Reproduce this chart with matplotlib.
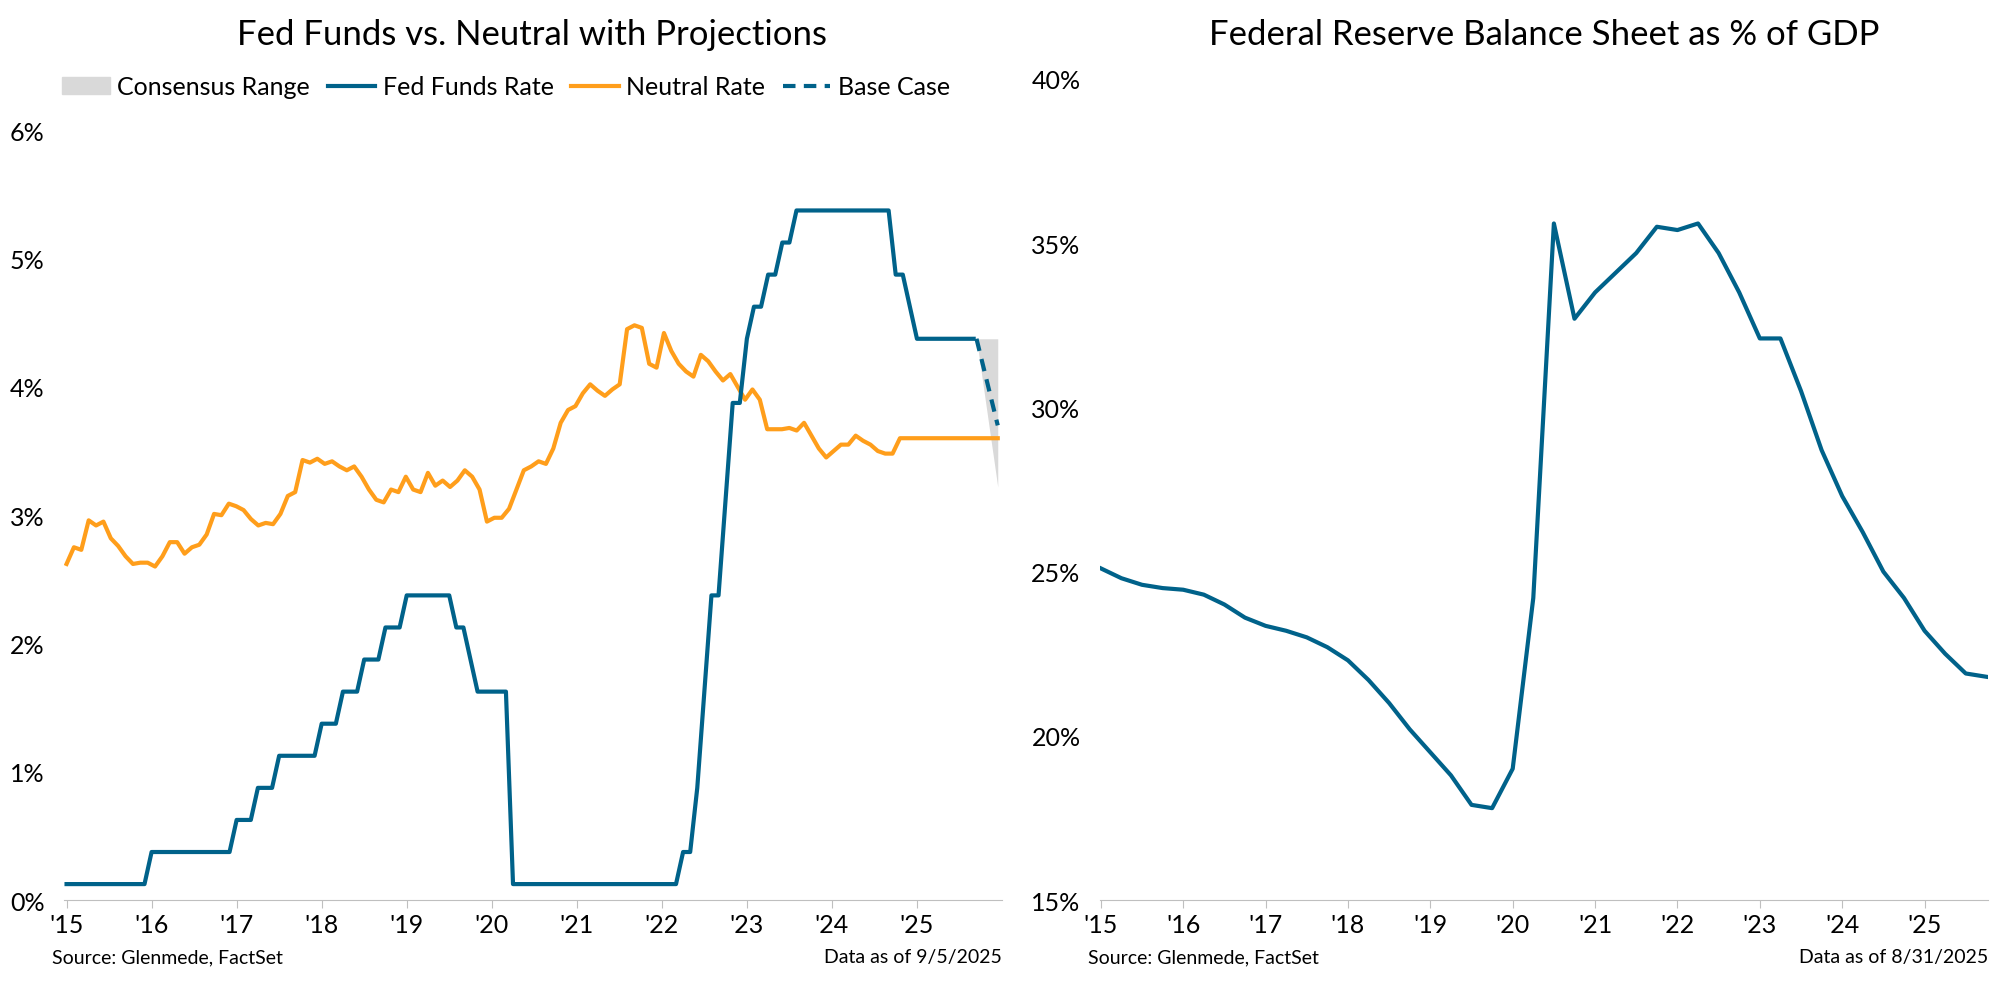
import numpy as np
import matplotlib.pyplot as plt
from matplotlib.patches import Patch
from matplotlib.lines import Line2D

plt.rcParams['font.family'] = ['Lato', 'DejaVu Sans']

BLUE = '#00628a'
ORANGE = '#ff9e1b'
GREY = '#d9d9d9'

# Fed funds target midpoint: (decimal year of change, new level)
ff_changes = [(2015.0, 0.125), (2015.95, 0.375), (2016.95, 0.625), (2017.2, 0.875),
              (2017.45, 1.125), (2017.95, 1.375), (2018.2, 1.625), (2018.45, 1.875),
              (2018.7, 2.125), (2018.95, 2.375), (2019.58, 2.125), (2019.7, 1.875),
              (2019.83, 1.625), (2020.2, 0.125), (2022.2, 0.375), (2022.37, 0.875),
              (2022.45, 1.625), (2022.58, 2.375), (2022.7, 3.125), (2022.83, 3.875),
              (2022.95, 4.375), (2023.08, 4.625), (2023.2, 4.875), (2023.37, 5.125),
              (2023.58, 5.375), (2024.7, 4.875), (2024.87, 4.625), (2024.95, 4.375)]
ff_end = 2025.7

base_x = [2025.7, 2025.95]
base_y = [4.375, 3.70]
range_hi = [4.375, 4.375]
range_lo = [4.375, 3.22]

neutral = [2.62, 2.75, 2.73, 2.96, 2.92, 2.95, 2.82, 2.76, 2.68, 2.62,
           2.63, 2.63, 2.60, 2.68, 2.79, 2.79, 2.70, 2.75, 2.77, 2.85,
           3.01, 3.00, 3.09, 3.07, 3.04, 2.97, 2.92, 2.94, 2.93, 3.01,
           3.15, 3.18, 3.43, 3.41, 3.44, 3.40, 3.42, 3.38, 3.35, 3.38,
           3.30, 3.20, 3.12, 3.10, 3.20, 3.18, 3.30, 3.20, 3.18, 3.33,
           3.23, 3.27, 3.22, 3.27, 3.35, 3.30, 3.20, 2.95, 2.98, 2.98,
           3.05, 3.20, 3.35, 3.38, 3.42, 3.40, 3.52, 3.72, 3.82, 3.85,
           3.95, 4.02, 3.97, 3.93, 3.98, 4.02, 4.45, 4.48, 4.46, 4.18,
           4.15, 4.42, 4.28, 4.18, 4.12, 4.08, 4.25, 4.20, 4.12, 4.05,
           4.10, 4.00, 3.90, 3.98, 3.90, 3.67, 3.67, 3.67, 3.68, 3.66,
           3.72, 3.62, 3.52, 3.45, 3.50, 3.55, 3.55, 3.62, 3.58, 3.55,
           3.50, 3.48, 3.48, 3.60]
neutral_start, neutral_flat = 2015.0, 2024.8

bs_gdp = [25.1, 24.8, 24.6, 24.5, 24.45, 24.3, 24.0, 23.6, 23.35, 23.2, 23.0,
          22.7, 22.3, 21.7, 21.0, 20.2, 19.5, 18.8, 17.9, 17.8, 19.0, 24.2,
          35.6, 32.7, 33.5, 34.1, 34.7, 35.5, 35.4, 35.6, 34.7, 33.5, 32.1,
          32.1, 30.5, 28.7, 27.3, 26.2, 25.0, 24.2, 23.2, 22.5, 21.9, 21.8]

years = list(range(2015, 2026))
year_labels = ["'" + str(y)[2:] for y in years]

# build step-like monthly fed funds line
months = np.arange(2015.0, ff_end + 1e-9, 1 / 12)
ff_x = np.array([c[0] for c in ff_changes])
ff_v = np.array([c[1] for c in ff_changes])
ff_series = ff_v[np.searchsorted(ff_x, months + 1e-6, side='right') - 1]

n_x = np.linspace(neutral_start, neutral_flat, len(neutral))
n_x = np.append(n_x, base_x[-1])
n_y = np.append(neutral, neutral[-1])

fig = plt.figure(figsize=(20, 9.87), dpi=100)

ax1 = fig.add_axes([0.032, 0.087, 0.469, 0.78])
ax1.fill_between(base_x, range_lo, range_hi, color=GREY, lw=0)
ax1.plot(n_x, n_y, color=ORANGE, lw=3)
ax1.plot(months, ff_series, color=BLUE, lw=3)
ax1.plot(base_x, base_y, color=BLUE, lw=3, ls=(0, (3, 2)))
ax1.set_ylim(0, 6)
ax1.set_xlim(2014.97, 2026.0)
ax1.set_yticks(range(7))
ax1.set_yticklabels([f'{v}%' for v in range(7)])
ax1.set_xticks(years)
ax1.set_xticklabels(year_labels)

ax2 = fig.add_axes([0.55, 0.087, 0.444, 0.832])
bx = 2015.0 + np.arange(len(bs_gdp)) * 0.25
ax2.plot(bx, bs_gdp, color=BLUE, lw=3)
ax2.set_ylim(15, 40)
ax2.set_xlim(2014.99, bx[-1] + 0.02)
ax2.set_yticks(range(15, 41, 5))
ax2.set_yticklabels([f'{v}%' for v in range(15, 41, 5)])
ax2.set_xticks(years)
ax2.set_xticklabels(year_labels)

for ax in (ax1, ax2):
    for s in ('top', 'right', 'left'):
        ax.spines[s].set_visible(False)
    ax.spines['bottom'].set_color('#bfbfbf')
    ax.tick_params(axis='y', length=0, labelsize=18, pad=14)
    ax.tick_params(axis='x', length=6, color='#bfbfbf', labelsize=18)

fig.text(0.266, 0.965, 'Fed Funds vs. Neutral with Projections', ha='center', va='center', fontsize=25)
fig.text(0.772, 0.965, 'Federal Reserve Balance Sheet as % of GDP', ha='center', va='center', fontsize=25)

handles = [Patch(color=GREY, label='Consensus Range'),
           Line2D([], [], color=BLUE, lw=3, label='Fed Funds Rate'),
           Line2D([], [], color=ORANGE, lw=3, label='Neutral Rate'),
           Line2D([], [], color=BLUE, lw=3, ls=(0, (3, 2)), label='Base Case')]
fig.legend(handles=handles, loc='center', bbox_to_anchor=(0.253, 0.911), ncol=4, frameon=False,
           fontsize=18, handlelength=1.9, handletextpad=0.3, columnspacing=0.7)

fig.text(0.026, 0.03, 'Source: Glenmede, FactSet', fontsize=14, va='center')
fig.text(0.501, 0.03, 'Data as of 9/5/2025', fontsize=14, va='center', ha='right')
fig.text(0.544, 0.03, 'Source: Glenmede, FactSet', fontsize=14, va='center')
fig.text(0.994, 0.03, 'Data as of 8/31/2025', fontsize=14, va='center', ha='right')

fig.savefig('out.png', dpi=100)
